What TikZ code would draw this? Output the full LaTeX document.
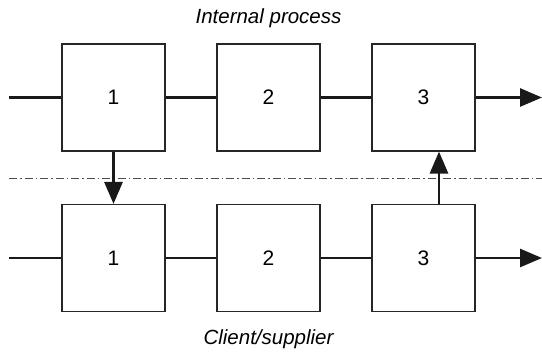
\documentclass[tikz,border=0pt]{standalone}
\usepackage{fontspec}
\setmainfont{Liberation Sans}
\usetikzlibrary{arrows.meta}
\usetikzlibrary{positioning}

\tikzset{
	stage/.style={draw=black!85, line width=1.1pt, fill=white, minimum width=103pt, minimum height=107pt, inner sep=0pt, font=\fontsize{21}{25}\selectfont},
	flow/.style={line width=2.8pt, black!90},
	flowarrow/.style={flow, -{Triangle[length=22pt, width=18pt]}},
	boundary/.style={line width=0.9pt, black!70, dash pattern=on 8pt off 3pt on 1.5pt off 3pt},
	caption/.style={font=\fontsize{20.5}{24}\selectfont\itshape, anchor=base}
}

\begin{document}
\begin{tikzpicture}[x=1pt, y=1pt]
		\useasboundingbox (0,0) rectangle (542,353);
		
		% internal process row
		\begin{scope}
			\node[caption] (inttitle) at (268.5,329) {Internal process};
			\node[stage] (t1) at (113.5,255.5) {1};
			\node[stage] (t2) at (268.5,255.5) {2};
			\node[stage] (t3) at (423.5,255.5) {3};
			\coordinate (tin) at (9,255.5);
			\coordinate (tout) at (542,255.5);
			\draw[flow] (tin) -- (t1);
			\draw[flow] (t1) -- (t2);
			\draw[flow] (t2) -- (t3);
			\draw[flowarrow] (t3) -- (tout);
		\end{scope}
		
		% boundary
		\coordinate (sepL) at (9,175);
		\coordinate (sepR) at (542,175);
		\draw[boundary] (sepL) -- (sepR);
		
		% client/supplier row
		\begin{scope}
			\node[caption] (bottitle) at (268.5,8) {Client/supplier};
			\node[stage] (b1) at (113.5,95) {1};
			\node[stage] (b2) at (268.5,95) {2};
			\node[stage] (b3) at (423.5,95) {3};
			\coordinate (bin) at (9,95);
			\coordinate (bout) at (542,95);
			\draw[flow] (bin) -- (b1);
			\draw[flow] (b1) -- (b2);
			\draw[flow] (b2) -- (b3);
			\draw[flowarrow] (b3) -- (bout);
		\end{scope}
		
		% exchanges across the boundary
		\draw[flowarrow] (t1.south) -- (b1.north);
		\draw[flowarrow] ([xshift=15.5pt]b3.north) -- ([xshift=15.5pt]t3.south);
	\end{tikzpicture}
\end{document}
